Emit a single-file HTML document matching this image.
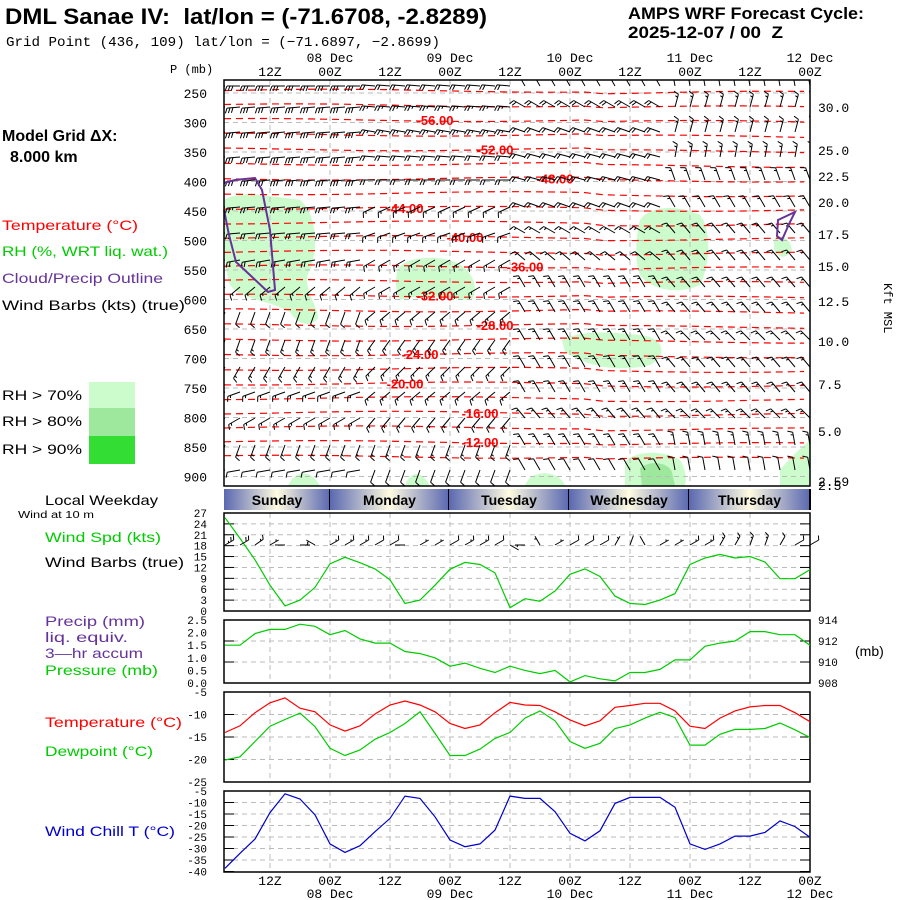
<!DOCTYPE html>
<html><head><meta charset="utf-8"><title>DML Sanae IV meteogram</title>
<style>
html,body{margin:0;padding:0;background:#fff;}
svg{display:block;font-family:"Liberation Sans",sans-serif;}
text{white-space:pre;}
.mono{font-family:"Liberation Mono","DejaVu Sans Mono",monospace;}
</style></head>
<body>
<svg id="chart" width="900" height="900" viewBox="0 0 900 900" xmlns="http://www.w3.org/2000/svg">
<rect width="900" height="900" fill="#fff"/>
<defs>
<linearGradient id="dayg" x1="0" x2="1" y1="0" y2="0">
<stop offset="0" stop-color="#5a68b0"/><stop offset="0.5" stop-color="#fffbe0"/><stop offset="1" stop-color="#5a68b0"/>
</linearGradient>
<clipPath id="xsclip"><rect x="224" y="80" width="586" height="406"/></clipPath>
</defs>
<text x="5" y="24" font-size="22" font-weight="bold" textLength="482" lengthAdjust="spacingAndGlyphs">DML Sanae IV:  lat/lon = (-71.6708, -2.8289)</text>
<text x="6" y="46" font-size="14" class="mono" textLength="434" lengthAdjust="spacingAndGlyphs">Grid Point (436, 109) lat/lon = (−71.6897, −2.8699)</text>
<text x="628" y="19" font-size="17" font-weight="bold" textLength="236" lengthAdjust="spacingAndGlyphs">AMPS WRF Forecast Cycle:</text>
<text x="628" y="38" font-size="17" font-weight="bold" textLength="155" lengthAdjust="spacingAndGlyphs">2025-12-07 / 00  Z</text>
<text x="170" y="73" font-size="12" class="mono">P (mb)</text>
<text x="2" y="141" font-size="16" font-weight="bold">Model Grid ΔX:</text>
<text x="10" y="162" font-size="16" font-weight="bold">8.000 km</text>
<g font-size="14">
<text x="2" y="230" fill="#f00" textLength="136" lengthAdjust="spacingAndGlyphs">Temperature (°C)</text>
<text x="2" y="256" fill="#0c0" textLength="166" lengthAdjust="spacingAndGlyphs">RH (%, WRT liq. wat.)</text>
<text x="2" y="283" fill="#639" textLength="161" lengthAdjust="spacingAndGlyphs">Cloud/Precip Outline</text>
<text x="2" y="310" fill="#000" textLength="183" lengthAdjust="spacingAndGlyphs">Wind Barbs (kts) (true)</text>
<text x="2" y="400" textLength="80" lengthAdjust="spacingAndGlyphs">RH &gt; 70%</text>
<text x="2" y="426" textLength="80" lengthAdjust="spacingAndGlyphs">RH &gt; 80%</text>
<text x="2" y="454" textLength="80" lengthAdjust="spacingAndGlyphs">RH &gt; 90%</text>
</g>
<rect x="89" y="382" width="46" height="26" fill="#ccfccc"/>
<rect x="89" y="408" width="46" height="28" fill="#9ee89e"/>
<rect x="89" y="436" width="46" height="28" fill="#33dd33"/>
<g font-size="14">
<text x="45" y="505" textLength="113" lengthAdjust="spacingAndGlyphs">Local Weekday</text>
<text x="18" y="518" font-size="10" textLength="76" lengthAdjust="spacingAndGlyphs">Wind at 10 m</text>
<text x="45" y="542" fill="#0c0" textLength="116" lengthAdjust="spacingAndGlyphs">Wind Spd (kts)</text>
<text x="45" y="567" textLength="139" lengthAdjust="spacingAndGlyphs">Wind Barbs (true)</text>
<text x="45" y="626" fill="#639" textLength="100" lengthAdjust="spacingAndGlyphs">Precip (mm)</text>
<text x="45" y="642" fill="#639" textLength="83" lengthAdjust="spacingAndGlyphs">liq. equiv.</text>
<text x="45" y="658" fill="#639" textLength="98" lengthAdjust="spacingAndGlyphs">3—hr accum</text>
<text x="45" y="675" fill="#0c0" textLength="113" lengthAdjust="spacingAndGlyphs">Pressure (mb)</text>
<text x="45" y="727" fill="#f00" textLength="137" lengthAdjust="spacingAndGlyphs">Temperature (°C)</text>
<text x="45" y="756" fill="#0c0" textLength="108" lengthAdjust="spacingAndGlyphs">Dewpoint (°C)</text>
<text x="45" y="836" fill="#00c" textLength="130" lengthAdjust="spacingAndGlyphs">Wind Chill T (°C)</text>
<text x="855" y="656">(mb)</text>
</g>
<text x="0" y="0" font-size="12" class="mono" transform="translate(884,283) rotate(90)">Kft MSL</text>
<g id="layer"></g>
</svg>
<script>
// ---- data ----
const times = [3,6,9,12,15,18,21,24,27,30,33,36,39,42,45,48,51,54,57,60,63,66,69,72,75,78,81,84,87,90,93,96,99,102,105,108,111,114,117,120];
const windSpd = [25.7,20,14.1,7.1,1.4,3,6.5,13,14.8,13.3,11.6,8.6,2.1,3,7.1,11.5,13.4,12.8,10.5,0.9,3.4,2.7,5.5,10.1,11.6,9.5,4.1,2.1,1.8,3,4.8,12.8,14.6,15.6,14.6,15,13.5,8.9,8.9,11.4];
const windDir10 = [60,60,55,60,270,90,300,60,60,60,60,60,270,60,60,60,60,60,60,120,270,330,60,60,60,60,30,20,330,60,60,60,60,30,30,20,20,30,60,60];
const pressure = [911.6,911.6,912.7,913.1,913.1,913.6,913.4,912.6,913.0,912.2,911.8,911.8,911.0,910.8,910.4,909.6,909.9,909.4,909.0,909.6,909.2,908.9,909.2,908.1,908.7,908.4,908.2,909.0,909.0,909.3,910.2,910.2,911.5,911.8,912.0,912.9,912.9,912.6,912.6,911.6];
const temperature = [-14.0,-12.5,-9.6,-7.4,-6.3,-8.6,-9.4,-12.3,-13.7,-12.5,-9.9,-7.9,-7.0,-7.9,-9.4,-12.0,-13.1,-12.3,-9.6,-7.3,-7.9,-8.0,-9.4,-11.2,-12.5,-11.4,-8.4,-8.0,-7.5,-7.5,-9.2,-12.6,-13.1,-10.8,-9.2,-8.3,-8.0,-8.0,-9.6,-11.6];
const dewpoint = [-20.1,-19.4,-16.0,-12.6,-11.1,-9.7,-12.7,-17.5,-19.1,-17.9,-15.5,-14.0,-12.0,-9.4,-14.2,-19.1,-19.1,-17.7,-15.3,-14.0,-10.8,-9.2,-11.4,-16.0,-17.5,-16.4,-13.1,-12.3,-10.8,-9.5,-10.7,-16.8,-16.8,-14.4,-13.3,-13.3,-13.1,-11.9,-13.4,-15.1];
const windChill = [-38.6,-32.1,-25.9,-14.4,-6.2,-8.5,-15.4,-28.0,-31.7,-28.8,-22.7,-16.9,-7.2,-8.2,-16.2,-26.3,-29.2,-28.0,-22.0,-7.2,-8.2,-8.2,-14.0,-23.4,-26.7,-22.3,-10.4,-7.8,-7.8,-7.8,-12.1,-28.0,-30.4,-28.0,-24.6,-24.6,-23.0,-18.0,-20.5,-25.1];
const pLevels = [250,300,350,400,450,500,550,600,650,700,750,800,850,900];
const kftTicks = ["30.0","25.0","22.5","20.0","17.5","15.0","12.5","10.0","7.5","5.0","2.5"];
const kftY = [107,150,176,202,234,266,301,341,384,431,485];
const windTicks = [27,24,21,18,15,12,9,6,3,0];
const precipTicks = ["2.5","2.0","1.5","1.0","0.5","0.0"];
const presTicks = [914,912,910,908];
const tempTicks = [-5,-10,-15,-20,-25];
const chillTicks = [-5,-10,-15,-20,-25,-30,-35,-40];
const days = ["Sunday","Monday","Tuesday","Wednesday","Thursday"];
const contourTemps = [-60,-58,-56,-54,-52,-50,-48,-46,-44,-42,-40,-38,-36,-34,-32,-30,-28,-26,-24,-22,-20,-18,-16,-14,-12,-10];
const contourLabelT = [-56,-52,-48,-44,-40,-36,-32,-28,-24,-20,-16,-12];
const contourLabelTime = [45,57,69,39,51,63,45,57,42,39,54,54];
// cross-section barbs: per row, 4 segments of 10 columns
const rowY = [86,107,132,157,180,207,233,260,287,312,340,367,392,418,445,470];
const rowDir = [[270,275,330,350],[265,275,300,15],[265,280,290,15],[265,275,285,10],[265,270,285,340],[265,245,290,330],[265,250,300,320],[260,240,310,320],[230,240,330,320],[200,230,330,320],[200,215,330,315],[210,225,330,320],[250,230,330,320],[240,220,320,315],[200,200,330,350],[260,200,330,350]];
const rowSpd = [[30,20,15,10],[30,25,20,15],[30,25,20,15],[30,20,20,15],[30,20,20,15],[25,15,20,15],[20,15,15,15],[20,15,15,15],[15,15,15,15],[10,15,15,15],[15,15,15,15],[15,15,15,15],[15,15,15,15],[15,15,15,15],[15,15,15,15],[10,10,10,10]];

// ---- axes ----
const X = t => 270 + (t - 12) * 5;
const Yp = p => 93 + (p - 250) * 0.59;
const Yw = s => 611 - s * 3.63;
const Ypr = p => 683 - (p - 908) * 10.5;
const Ypc = v => 683 - v * 25.2;
const Yt = T => 692 + (-5 - T) * 4.5;
const Yc = c => 791 + (-5 - c) * 2.3;
const Yct = T => 120 + (T + 56) * 7.32;

const NS = "http://www.w3.org/2000/svg";
const layer = document.getElementById('layer');
function mk(tag, attrs, parent) {
  const e = document.createElementNS(NS, tag);
  for (const k in attrs) e.setAttribute(k, attrs[k]);
  (parent || layer).appendChild(e);
  return e;
}
function txt(x, y, s, size, anchor, fill, parent) {
  const e = mk('text', {x: x, y: y, 'font-size': size, 'text-anchor': anchor || 'start', fill: fill || '#000', class: 'mono'}, parent);
  e.textContent = s;
  return e;
}
const L = 224, R = 810;

// RH blobs
const blobs = layer.appendChild(document.createElementNS(NS, 'g'));


const blobPaths = [
 ["M224,200 C240,190 260,195 300,200 C318,215 318,250 310,270 C300,285 318,305 318,318 C310,328 298,325 290,312 C270,300 240,300 230,285 C224,270 224,230 224,200 Z","#ccfccc"],
 ["M398,268 C410,255 440,256 455,262 C470,268 480,285 472,300 C450,300 430,292 400,300 C395,290 395,280 398,268 Z","#ccfccc"],
 ["M640,220 C650,205 680,205 700,215 C712,230 710,265 700,285 C680,295 650,290 640,275 C634,260 636,235 640,220 Z","#ccfccc"],
 ["M562,340 C580,330 610,332 640,335 C665,338 668,355 650,365 C620,372 590,368 565,352 Z","#ccfccc"],
 ["M774,240 C780,232 790,238 792,250 C786,260 778,258 774,250 Z","#ccfccc"],
 ["M625,462 C635,450 665,450 680,460 C688,472 686,486 684,486 L625,486 Z","#ccfccc"],
 ["M640,468 C650,460 668,462 672,472 L675,486 L642,486 Z","#9ee89e"],
 ["M780,470 C792,455 805,445 810,440 L810,486 L780,486 Z","#ccfccc"],
 ["M288,486 C295,470 310,468 320,486 Z","#ccfccc"],
 ["M405,486 C410,470 422,470 430,486 Z","#ccfccc"],
 ["M525,486 C530,468 560,470 565,486 Z","#ccfccc"]
];
blobPaths.forEach(b => { const p = mk('path', {d: b[0], fill: b[1]}, blobs);   });

// gridlines cross-section
const grid = layer.appendChild(document.createElementNS(NS, 'g'));


pLevels.forEach(p => mk('line', {x1: L, x2: R, y1: Yp(p), y2: Yp(p), stroke: '#bbb', 'stroke-dasharray': '5,4'}, grid));
for (let t = 12; t < 120; t += 12) {
  mk('line', {x1: X(t), x2: X(t), y1: 80, y2: 486, stroke: '#bbb', 'stroke-dasharray': '5,4'}, grid);
}

// temperature contours
const cont = layer.appendChild(document.createElementNS(NS, 'g'));


contourTemps.forEach((T, i) => {
  const y0 = Yct(T);
  let d = '';
  for (let x = L; x <= R; x += 20) {
    const w = 1.5 * Math.sin((x + i * 37) / 70) + (x > 600 ? 2 : 0);
    d += (x === L ? 'M' : 'L') + x + ',' + Math.min(484, y0 + w).toFixed(1);
  }
  const p = mk('path', {d: d, fill: 'none', stroke: '#f00', 'stroke-width': 1.2, 'stroke-dasharray': '7,5'}, cont);
  
  
});
contourLabelT.forEach((T, i) => {
  const t = txt(X(contourLabelTime[i]), Yct(T) + 5, T.toFixed(2), 13, 'middle', '#f00', cont);
  t.setAttribute('font-weight', 'bold');
  t.setAttribute('font-family', '"Liberation Sans",sans-serif');
  t.setAttribute('class', '');
  
  
});

// barbs (southern hemisphere: barbs drawn on the other side)
function barb(g, x, y, dir, spd, len, bl) {
  const r = dir * Math.PI / 180;
  const ux = Math.sin(r), uy = -Math.cos(r);
  const px = uy, py = -ux;
  const ex = x + ux * len, ey = y + uy * len;
  let d = 'M' + x.toFixed(1) + ',' + y.toFixed(1) + 'L' + ex.toFixed(1) + ',' + ey.toFixed(1);
  let s = Math.round(spd / 5) * 5, pos = 0;
  while (s >= 50) { const bx = ex - ux * pos, by = ey - uy * pos; d += 'M' + bx.toFixed(1) + ',' + by.toFixed(1) + 'l' + (px * bl).toFixed(1) + ',' + (py * bl).toFixed(1) + 'L' + (bx - ux * 3).toFixed(1) + ',' + (by - uy * 3).toFixed(1); s -= 50; pos += 4; }
  while (s >= 10) { const bx = ex - ux * pos, by = ey - uy * pos; d += 'M' + bx.toFixed(1) + ',' + by.toFixed(1) + 'l' + (px * bl + ux * 2).toFixed(1) + ',' + (py * bl + uy * 2).toFixed(1); s -= 10; pos += 3; }
  if (s >= 5) { if (pos === 0) pos = 3; const bx = ex - ux * pos, by = ey - uy * pos; d += 'M' + bx.toFixed(1) + ',' + by.toFixed(1) + 'l' + (px * bl / 2 + ux).toFixed(1) + ',' + (py * bl / 2 + uy).toFixed(1); }
  const p = mk('path', {d: d, fill: 'none', stroke: '#000', 'stroke-width': 1}, g);
  
  
}
const barbs = layer.appendChild(document.createElementNS(NS, 'g'));


barbs.setAttribute('clip-path', 'url(#xsclip)');
rowY.forEach((y, r) => {
  times.forEach((t, i) => {
    const seg = Math.min(3, Math.floor(i / 10));
    barb(barbs, X(t), y, rowDir[r][seg], rowSpd[r][seg], 13, 5);
  });
});

// purple outlines
const cl1 = mk('path', {d: 'M224,183 L235,180 L255,178 L262,190 L270,230 L275,290 L268,292 L250,275 L236,262 L229,235 L224,210', fill: 'none', stroke: '#639', 'stroke-width': 2});


const cl2 = mk('path', {d: 'M777,236 L778,220 L795,212 L789,224 L782,240 Z', fill: 'none', stroke: '#639', 'stroke-width': 2});



// cross-section frame and axes
const cf = mk('rect', {x: L, y: 80, width: R - L, height: 406, fill: 'none', stroke: '#000', 'stroke-width': 1.5});


pLevels.forEach(p => { const t = txt(207, Yp(p) + 5, String(p), 13, 'end');   });
kftTicks.forEach((k, i) => { const t = txt(818, kftY[i] + 5, k, 13, 'start');   });
{ const t = txt(818, 486, '2.59', 13, 'start');   }

// time labels top and bottom
const dayLabels = ["08 Dec","09 Dec","10 Dec","11 Dec","12 Dec"];
for (let k = 0; k < 10; k++) {
  const t = 12 + k * 12;
  const lab = (t % 24 === 0) ? '00Z' : '12Z';
  const a = txt(X(t), 76, lab, 13, 'middle');  
  const b = txt(X(t), 885, lab, 13, 'middle');  
}
dayLabels.forEach((d, i) => {
  const a = txt(X(24 + i * 24), 62, d, 13, 'middle');  
  const b = txt(X(24 + i * 24), 898, d, 13, 'middle');  
});

// weekday bar
const dayBounds = [L, 330, 449, 569, 689, R];
days.forEach((d, i) => {
  const r = mk('rect', {x: dayBounds[i], y: 489, width: dayBounds[i + 1] - dayBounds[i], height: 21, fill: 'url(#dayg)'});
  
  
  const t = mk('text', {x: (dayBounds[i] + dayBounds[i + 1]) / 2, y: 505, 'font-size': 14, 'font-weight': 'bold', 'text-anchor': 'middle'});
  t.textContent = d;
  
  
  mk('line', {x1: dayBounds[i + 1], x2: dayBounds[i + 1], y1: 489, y2: 510, stroke: '#000', 'stroke-width': 2});
});

// lower panels
function panel(name, y0, y1, ticksY) {
  const g = layer.appendChild(document.createElementNS(NS, 'g'));
  
  
  for (let t = 12; t < 120; t += 12) mk('line', {x1: X(t), x2: X(t), y1: y0, y2: y1, stroke: '#bbb', 'stroke-dasharray': '5,4'}, g);
  ticksY.forEach(y => {
    if (y > y0 + 1 && y < y1 - 1) mk('line', {x1: L, x2: R, y1: y, y2: y, stroke: '#bbb', 'stroke-dasharray': '5,4'}, g);
    mk('line', {x1: L, x2: L + 10, y1: y, y2: y, stroke: '#000'}, g);
    mk('line', {x1: R - 10, x2: R, y1: y, y2: y, stroke: '#000'}, g);
  });
  mk('rect', {x: L, y: y0, width: R - L, height: y1 - y0, fill: 'none', stroke: '#000', 'stroke-width': 1.5}, g);
  return g;
}
function line(g, vals, yf, color, name) {
  const d = vals.map((v, i) => (i ? 'L' : 'M') + X(times[i]).toFixed(1) + ',' + yf(v).toFixed(1)).join('');
  const p = mk('path', {d: d, fill: 'none', stroke: color, 'stroke-width': 1.2}, g);
  
  
}
const gw = panel('wind-panel', 513, 611, windTicks.map(Yw));
windTicks.forEach(v => { const t = txt(207, Yw(v) + 4, String(v), 11, 'end');   });
line(gw, windSpd, Yw, '#0c0', 'wind-speed-line');
times.forEach((t, i) => barb(gw, X(t), 545, windDir10[i], windSpd[i], 10, 4));

const gp = panel('pressure-panel', 620, 683, presTicks.map(Ypr));
precipTicks.forEach(v => { const t = txt(207, Ypc(+v) + 4, v, 11, 'end');   });
presTicks.forEach(v => { const t = txt(818, Ypr(v) + 4, String(v), 11, 'start');   });
line(gp, pressure, Ypr, '#0c0', 'pressure-line');

const gt = panel('temperature-panel', 692, 782, tempTicks.map(Yt));
tempTicks.forEach(v => { const t = txt(207, Yt(v) + 4, String(v), 11, 'end');   });
line(gt, temperature, Yt, '#f00', 'temperature-line');
line(gt, dewpoint, Yt, '#0c0', 'dewpoint-line');

const gc = panel('wind-chill-panel', 791, 872, chillTicks.map(Yc));
chillTicks.forEach(v => { const t = txt(207, Yc(v) + 4, String(v), 11, 'end');   });
line(gc, windChill, Yc, '#00c', 'wind-chill-line');
</script>
</body></html>
